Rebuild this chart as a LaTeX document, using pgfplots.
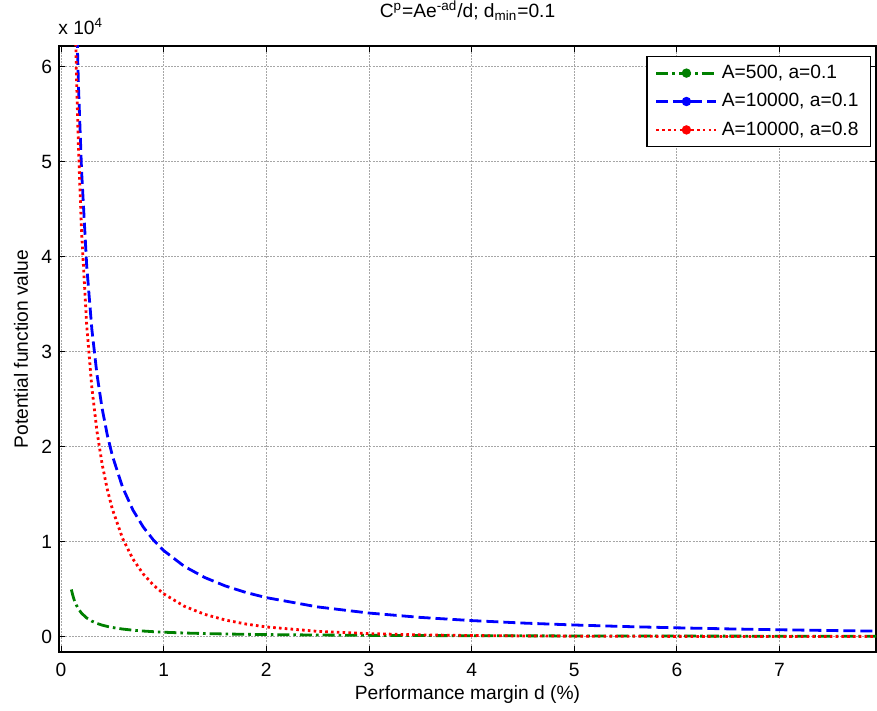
\documentclass[border=0pt]{standalone}
\usepackage{pgfplots}
\pgfplotsset{compat=1.18}
\usepackage{fontspec}
\setmainfont{Liberation Sans}
\definecolor{mgreen}{rgb}{0,0.5,0}
\begin{document}
\begin{tikzpicture}[font=\fontsize{9.6}{11.5}\selectfont]
\begin{axis}[
  width=408.5pt, height=303pt, scale only axis,
  clip mode=individual,
  xmin=-0.02, xmax=7.94,
  ymin=-1630, ymax=62160,
  xtick={0,1,...,7},
  ytick={0,10000,20000,30000,40000,50000,60000},
  yticklabels={0,1,2,3,4,5,6},
  scaled y ticks=false,
  /pgf/number format/assume math mode=true,
  tick align=inside,
  major tick length=3pt,
  tick style={black, line width=0.4pt},
  axis line style={line width=0.6pt},
  grid=major,
  major grid style={gray!70, line width=0.45pt, dash pattern=on 1pt off 0.6pt},
  xticklabel style={yshift=-2pt},
  xlabel={Performance margin d (\%)},
  xlabel style={at={(axis description cs:0.5,-0.071)}, anchor=center},
  ylabel={Potential function value},
  ylabel style={at={(axis description cs:-0.0465,0.5)}, anchor=center},
  legend style={at={(axis description cs:0.994,0.983)}, anchor=north east,
    draw=black, line width=0.6pt, inner xsep=4pt, inner ysep=2pt,
    row sep=2pt, font=\fontsize{9.6}{11.5}\selectfont},
  legend cell align=left,
  legend image code/.code={%
    \draw[#1] (0pt,0pt) -- (30pt,0pt);
    \fill[#1,solid] (15pt,0pt) circle (1.6pt);},
]
\addplot[mgreen, line width=1.4pt, dash pattern=on 6pt off 2pt on 1.3pt off 2pt] coordinates {
(0.10,4950) (0.12,4117) (0.13,3796) (0.15,3284) (0.17,2892) (0.20,2451) (0.25,1951)
(0.30,1617) (0.35,1379) (0.40,1201) (0.45,1062) (0.50,951) (0.60,785) (0.70,666)
(0.80,577) (0.90,508) (1.00,452) (1.20,370) (1.40,311) (1.60,266) (1.80,232)
(2.00,205) (2.50,156) (3.00,123) (3.50,101) (4.00,84) (4.50,71) (5.00,61)
(5.50,52) (6.00,46) (6.50,40) (7.00,35) (7.50,32) (8.00,28)
};
\addlegendentry{A=500, a=0.1}
\addplot[blue, line width=1.4pt, dash pattern=on 6pt off 2.5pt] coordinates {
(0.10,99005) (0.12,82339) (0.13,75929) (0.15,65674) (0.17,57832) (0.20,49010) (0.25,39012)
(0.30,32348) (0.35,27589) (0.40,24020) (0.45,21244) (0.50,19025) (0.60,15696) (0.70,13320)
(0.80,11539) (0.90,10155) (1.00,9048) (1.20,7391) (1.40,6210) (1.60,5326) (1.80,4640)
(2.00,4094) (2.50,3115) (3.00,2469) (3.50,2013) (4.00,1676) (4.50,1417) (5.00,1213)
(5.50,1049) (6.00,915) (6.50,803) (7.00,709) (7.50,630) (8.00,562)
};
\addlegendentry{A=10000, a=0.1}
\addplot[red, line width=1.4pt, dash pattern=on 1.3pt off 1.6pt] coordinates {
(0.10,92312) (0.12,75705) (0.13,69325) (0.15,59128) (0.17,51344) (0.20,42607) (0.25,32749)
(0.30,26221) (0.35,21594) (0.40,18154) (0.45,15504) (0.50,13406) (0.60,10313) (0.70,8160)
(0.80,6591) (0.90,5408) (1.00,4493) (1.20,3191) (1.40,2331) (1.60,1738) (1.80,1316)
(2.00,1009) (2.50,541) (3.00,302) (3.50,174) (4.00,102) (4.50,61) (5.00,37)
(5.50,22) (6.00,14) (6.50,8) (7.00,5) (7.50,3) (8.00,2)
};
\addlegendentry{A=10000, a=0.8}
\node[anchor=base west, inner sep=0pt] at ([xshift=-0.5pt,yshift=5.5pt]rel axis cs:0,1) {x 10\textsuperscript{4}};
\node[anchor=base, inner sep=0pt] at ([yshift=14pt]rel axis cs:0.5,1) {C\textsuperscript{p}=Ae\textsuperscript{-ad}/d; d\textsubscript{min}=0.1};
\end{axis}
\pgfresetboundingbox
\useasboundingbox (-29.5pt,-29.5pt) rectangle (409pt,326pt);
\end{tikzpicture}
\end{document}
